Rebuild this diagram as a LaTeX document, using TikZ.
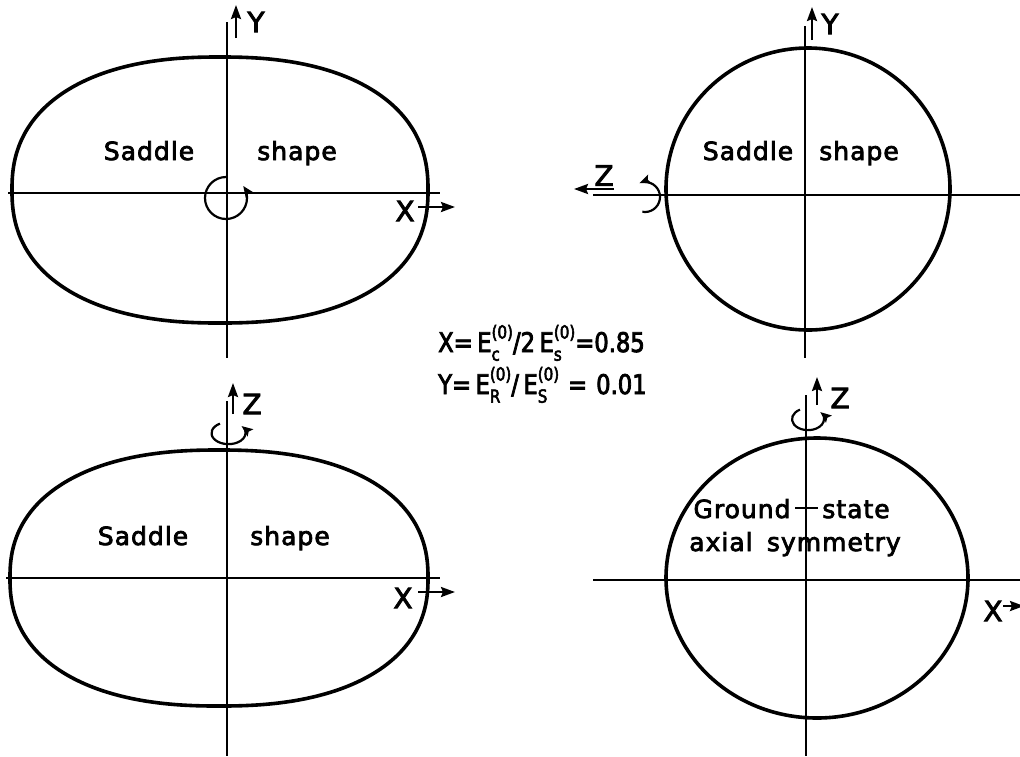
\documentclass[tikz,border=0pt]{standalone}
\usepackage{fontspec}
\setmainfont[LetterSpace=4,WordSpace=1.6,FakeBold=3]{DejaVu Sans}
\usetikzlibrary{arrows.meta}
\newcommand{\Eq}[1]{E\rlap{\raisebox{-0.32em}{\fontsize{18}{18}\selectfont #1}}\raisebox{0.5em}{\fontsize{18}{18}\selectfont(0)}}
\begin{document}
\begin{tikzpicture}[x=1pt,y=-1pt,
  shapeline/.style={line width=3.6pt},
  axisline/.style={line width=1.9pt},
  arr/.style={line width=2.4pt,-{Stealth[length=14pt,width=10pt,inset=2pt]}},
  rot/.style={line width=2.2pt,-{Stealth[length=11pt,width=9pt,inset=2pt]}},
  lbl/.style={font=\fontsize{25}{28}\selectfont,inner sep=0pt,anchor=base},
  axlbl/.style={font=\fontsize{28}{28}\selectfont,inner sep=0pt},
  frm/.style={font=\fontsize{27}{28}\selectfont\addfontfeature{LetterSpace=0,FakeStretch=0.84},inner sep=0pt,anchor=base west}]
\useasboundingbox (0,0) rectangle (1020,756);
% ---------------- top left ----------------
\draw[shapeline] plot[domain=1:361,samples=181,smooth]
  ({220+208*sign(cos(\x))*abs(cos(\x))^0.86},{190+133*sign(sin(\x))*abs(sin(\x))^0.86}) -- cycle;
\coordinate (tlv1) at (227,22); \coordinate (tlv2) at (227,358);
\coordinate (tlh1) at (8,193); \coordinate (tlh2) at (440,193);
\draw[axisline] (tlv1) -- (tlv2);
\draw[axisline] (tlh1) -- (tlh2);
\coordinate (tlya) at (236,38); \coordinate (tlyb) at (236,5);
\draw[arr] (tlya) -- (tlyb);
\node[axlbl] (tlY) at (256,22) {Y};
\coordinate (tlxa) at (418,207); \coordinate (tlxb) at (455,207);
\draw[arr] (tlxa) -- (tlxb);
\node[axlbl] (tlX) at (405,211) {X};
\coordinate (tlrc) at (226,198);
\draw[rot] (tlrc) ++(-90:21) arc[start angle=-90,end angle=-395,radius=21];
\node[lbl] (tls1) at (149,160) {Saddle};
\node[lbl] (tls2) at (297,160) {shape};
% ---------------- top right ----------------
\draw[shapeline] (808,189) ellipse[x radius=142,y radius=141];
\coordinate (trv1) at (805,26); \coordinate (trv2) at (805,358);
\coordinate (trh1) at (593,195); \coordinate (trh2) at (1020,195);
\draw[axisline] (trv1) -- (trv2);
\draw[axisline] (trh1) -- (trh2);
\coordinate (trya) at (812,40); \coordinate (tryb) at (812,7);
\draw[arr] (trya) -- (tryb);
\node[axlbl] (trY) at (830,24) {Y};
\coordinate (trza) at (614,189); \coordinate (trzb) at (574,189);
\draw[arr] (trza) -- (trzb);
\node[axlbl,anchor=south] (trZ) at (604,186) {Z};
\coordinate (trrc) at (645,197);
\draw[rot] (trrc) ++(100:15) arc[start angle=100,end angle=-112,radius=15];
\node[lbl] (trs1) at (748,160) {Saddle};
\node[lbl] (trs2) at (859,160) {shape};
% ---------------- formulas ----------------
\node[frm] (f1) at (438,352) {X=\,\Eq{c}/2\,\Eq{s}=0.85};
\node[frm] (f2) at (438,394) {Y=\,\Eq{R}/\,\Eq{S}\,\,=\,\,0.01};
% ---------------- bottom left ----------------
\draw[shapeline] plot[domain=1:361,samples=181,smooth]
  ({219+209*sign(cos(\x))*abs(cos(\x))^0.86},{578+128*sign(sin(\x))*abs(sin(\x))^0.86}) -- cycle;
\coordinate (blv1) at (227,401); \coordinate (blv2) at (227,756);
\coordinate (blh1) at (6,578); \coordinate (blh2) at (440,578);
\draw[axisline] (blv1) -- (blv2);
\draw[axisline] (blh1) -- (blh2);
\coordinate (blza) at (233,414); \coordinate (blzb) at (233,383);
\draw[arr] (blza) -- (blzb);
\node[axlbl] (blZ) at (252,404) {Z};
\coordinate (blrc) at (226,434);
\draw[rot] (blrc) ++(-120:12) arc[start angle=-120,end angle=-400,x radius=17,y radius=11];
\coordinate (blxa) at (418,592); \coordinate (blxb) at (455,592);
\draw[arr] (blxa) -- (blxb);
\node[axlbl] (blX) at (403,598) {X};
\node[lbl] (bls1) at (143,545) {Saddle};
\node[lbl] (bls2) at (290,545) {shape};
% ---------------- bottom right ----------------
\draw[shapeline] (817,578) ellipse[x radius=151,y radius=140];
\coordinate (brv1) at (806,395); \coordinate (brv2) at (806,756);
\coordinate (brh1) at (593,580); \coordinate (brh2) at (1020,580);
\draw[axisline] (brv1) -- (brv2);
\draw[axisline] (brh1) -- (brh2);
\coordinate (brza) at (817,405); \coordinate (brzb) at (817,377);
\draw[arr] (brza) -- (brzb);
\node[axlbl] (brZ) at (840,398) {Z};
\coordinate (brrc) at (806,420);
\draw[rot] (brrc) ++(-120:12) arc[start angle=-120,end angle=-400,x radius=16,y radius=11];
\coordinate (brxa) at (1003,606); \coordinate (brxb) at (1024,606);
\draw[arr] (brxa) -- (brxb);
\node[axlbl] (brX) at (993,611) {X};
\node[lbl] (brs1) at (742,518) {Ground};
\coordinate (brh3) at (795,508); \coordinate (brh4) at (818,508);
\draw[line width=2.4pt] (brh3) -- (brh4);
\node[lbl] (brs2) at (856,518) {state};
\node[lbl] (brs3) at (795,551) {axial symmetry};
\end{tikzpicture}
\end{document}
